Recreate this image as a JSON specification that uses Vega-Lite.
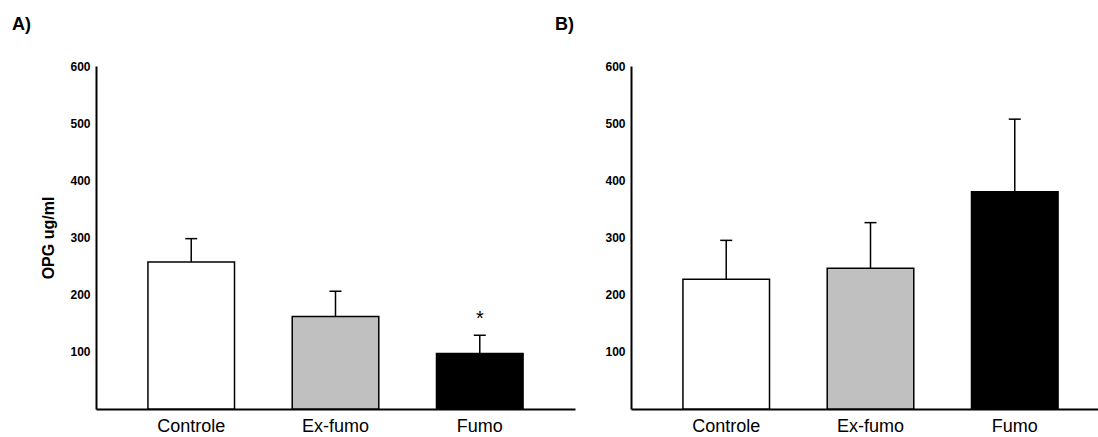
{
  "$schema": "https://vega.github.io/schema/vega-lite/v6.json",
  "background": "white",
  "padding": {"left": 12, "top": 16, "right": 0, "bottom": 0},
  "bounds": "flush",
  "spacing": 56,
  "config": {
    "view": {"stroke": null},
    "font": "Liberation Sans",
    "axis": {"grid": false, "ticks": false, "domainColor": "black", "domainWidth": 2, "labelColor": "black", "titleColor": "black", "labelFont": "Liberation Sans", "titleFont": "Liberation Sans"},
    "title": {"font": "Liberation Sans", "fontSize": 18, "fontWeight": "bold", "anchor": "start", "frame": "group", "color": "black"}
  },
  "data": {"values": [
    {"panel": "A", "group": "Controle", "mean": 257, "upper": 298, "star": ""},
    {"panel": "A", "group": "Ex-fumo", "mean": 162, "upper": 206, "star": ""},
    {"panel": "A", "group": "Fumo", "mean": 97, "upper": 129, "star": "*"},
    {"panel": "B", "group": "Controle", "mean": 227, "upper": 295, "star": ""},
    {"panel": "B", "group": "Ex-fumo", "mean": 246, "upper": 326, "star": ""},
    {"panel": "B", "group": "Fumo", "mean": 380, "upper": 507, "star": ""}
  ]},
  "hconcat": [
    {
      "title": {"text": "A)", "dx": -84, "offset": 26},
      "width": 479,
      "height": 343,
      "transform": [{"filter": "datum.panel === 'A'"}],
      "encoding": {
        "x": {"field": "group", "type": "nominal", "sort": ["Controle", "Ex-fumo", "Fumo"],
          "scale": {"paddingInner": 0.4, "paddingOuter": 0.36},
          "axis": {"title": null, "labelAngle": 0, "labelFontSize": 18, "labelPadding": 8}}
      },
      "layer": [
        {"mark": {"type": "rule", "color": "black", "strokeWidth": 1.5},
         "encoding": {"y": {"field": "mean", "type": "quantitative"}, "y2": {"field": "upper"}}},
        {"mark": {"type": "tick", "color": "black", "thickness": 1.5, "size": 12, "opacity": 1},
         "encoding": {"y": {"field": "upper", "type": "quantitative"}}},
        {"mark": {"type": "bar", "stroke": "black", "strokeWidth": 1.5, "opacity": 1},
         "encoding": {
           "y": {"field": "mean", "type": "quantitative", "scale": {"domain": [0, 600]},
             "axis": {"title": "OPG ug/ml", "values": [100, 200, 300, 400, 500, 600], "labelFontSize": 12, "labelFontWeight": "bold", "labelPadding": 6, "titleFontSize": 16, "titleFontWeight": "bold", "titlePadding": 13}},
           "fill": {"field": "group", "type": "nominal", "scale": {"domain": ["Controle", "Ex-fumo", "Fumo"], "range": ["#ffffff", "#c0c0c0", "#000000"]}, "legend": null}
         }},
        {"transform": [{"filter": "datum.star === '*'"}],
         "mark": {"type": "text", "fontSize": 20, "color": "black", "dy": 4},
         "encoding": {"y": {"datum": 164, "type": "quantitative"}, "text": {"field": "star"}}}
      ]
    },
    {
      "title": {"text": "B)", "dx": -76, "offset": 26},
      "width": 479,
      "height": 343,
      "transform": [{"filter": "datum.panel === 'B'"}],
      "encoding": {
        "x": {"field": "group", "type": "nominal", "sort": ["Controle", "Ex-fumo", "Fumo"],
          "scale": {"paddingInner": 0.4, "paddingOuter": 0.36},
          "axis": {"title": null, "labelAngle": 0, "labelFontSize": 18, "labelPadding": 8}}
      },
      "layer": [
        {"mark": {"type": "rule", "color": "black", "strokeWidth": 1.5},
         "encoding": {"y": {"field": "mean", "type": "quantitative"}, "y2": {"field": "upper"}}},
        {"mark": {"type": "tick", "color": "black", "thickness": 1.5, "size": 12, "opacity": 1},
         "encoding": {"y": {"field": "upper", "type": "quantitative"}}},
        {"mark": {"type": "bar", "stroke": "black", "strokeWidth": 1.5, "opacity": 1},
         "encoding": {
           "y": {"field": "mean", "type": "quantitative", "scale": {"domain": [0, 600]},
             "axis": {"title": null, "values": [100, 200, 300, 400, 500, 600], "labelFontSize": 12, "labelFontWeight": "bold", "labelPadding": 6}},
           "fill": {"field": "group", "type": "nominal", "scale": {"domain": ["Controle", "Ex-fumo", "Fumo"], "range": ["#ffffff", "#c0c0c0", "#000000"]}, "legend": null}
         }}
      ]
    }
  ]
}
